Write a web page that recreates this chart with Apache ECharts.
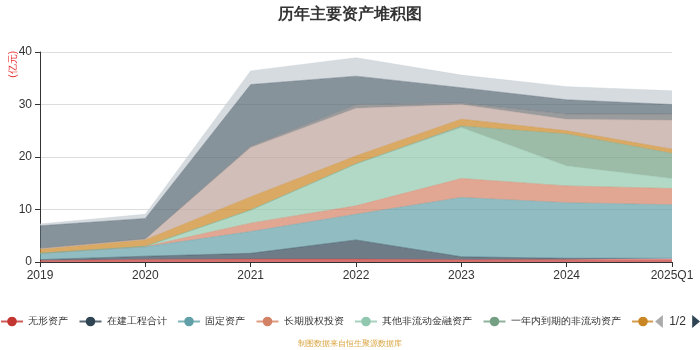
<!DOCTYPE html>
<html><head><meta charset="utf-8">
<script src="https://cdn.jsdelivr.net/npm/echarts@6/dist/echarts.min.js"></script>
<style>html,body{margin:0;padding:0;background:#fff}#c{width:700px;height:350px}</style>
</head><body><div id="c"></div>
<script>
const categories = ['2019','2020','2021','2022','2023','2024','2025Q1'];
const seriesNames = ['无形资产','在建工程合计','固定资产','长期股权投资','其他非流动金融资产','一年内到期的非流动资产','长期待摊费用','货币资金','递延所得税资产','其他非流动资产','商誉'];
const s1 = [0.3, 0.5, 0.55, 0.55, 0.45, 0.5, 0.5];
const s2 = [0.15, 0.6, 1.1, 3.65, 0.55, 0.2, 0.2];
const s3 = [1.2, 1.8, 4.15, 4.9, 11.3, 10.6, 10.2];
const s4 = [0, 0.05, 1.6, 1.6, 3.6, 3.2, 3.1];
const s5 = [0, 0.05, 2.5, 8.0, 9.7, 3.8, 1.9];
const s6 = [0, 0, 0, 0, 0.3, 6.1, 4.8];
const s7 = [0.75, 1.2, 2.5, 1.5, 1.3, 0.6, 0.8];
const s8 = [0.15, 0.15, 9.4, 9.1, 2.8, 2.2, 5.5];
const s9 = [0.1, 0.1, 0.3, 0.7, 0.3, 1.0, 1.2];
const s10 = [4.25, 3.85, 11.7, 5.4, 2.9, 2.7, 1.8];
const s11 = [0.35, 0.8, 2.6, 3.5, 2.4, 2.5, 2.6];
const seriesData = [s1,s2,s3,s4,s5,s6,s7,s8,s9,s10,s11];
const yTicks = {min: 0, max: 40, interval: 10};
const colors = ['#c23531','#2f4554','#61a0a8','#d48265','#91c7ae','#749f83','#ca8622','#bda29a','#6e7074','#546570','#c4ccd3'];

const chart = echarts.init(document.getElementById('c'));
chart.setOption({
  color: colors,
  animation: false,
  title: {text: '历年主要资产堆积图', left: 'center', top: 2,
    textStyle: {fontSize: 16, fontWeight: 'bold', color: '#333'}},
  grid: {left: 40, right: 28, top: 52, bottom: 88},
  legend: {type: 'scroll', left: 0, right: 0, bottom: 17, padding: [5, 0, 5, 0],
    itemWidth: 22, itemHeight: 12, itemGap: 10.5,
    textStyle: {fontSize: 10, color: '#333'}, pageIconSize: [9, 13], pageButtonItemGap: 1, pageButtonGap: 2,
    pageTextStyle: {fontSize: 12, color: '#333'},
    pageIconColor: '#2f4554', pageIconInactiveColor: '#aaa'},
  graphic: [
    {type: 'text', left: 8, top: 51, rotation: Math.PI/2,
      style: {text: '(亿元)', fill: '#e83030', fontSize: 10}},
    {type: 'text', left: 'center', bottom: 2,
      style: {text: '制图数据来自恒生聚源数据库', fill: '#d9a441', fontSize: 8}}
  ],
  xAxis: {type: 'category', data: categories, boundaryGap: false,
    axisLine: {lineStyle: {color: '#333'}}, axisTick: {show: true, lineStyle: {color: '#333'}},
    axisLabel: {color: '#333', fontSize: 12}},
  yAxis: {type: 'value', min: yTicks.min, max: yTicks.max, interval: yTicks.interval,
    axisLine: {show: true, lineStyle: {color: '#333'}}, axisTick: {show: true, lineStyle: {color: '#333'}},
    axisLabel: {color: '#333', fontSize: 12}, splitLine: {lineStyle: {color: '#ddd'}}},
  series: seriesNames.map((n, i) => ({
    name: n, type: 'line', stack: 'total', data: seriesData[i],
    symbol: 'circle', symbolSize: 8, showSymbol: false,
    lineStyle: {width: 0.5, opacity: 0.8},
    areaStyle: {opacity: 0.7}
  }))
});
</script></body></html>
